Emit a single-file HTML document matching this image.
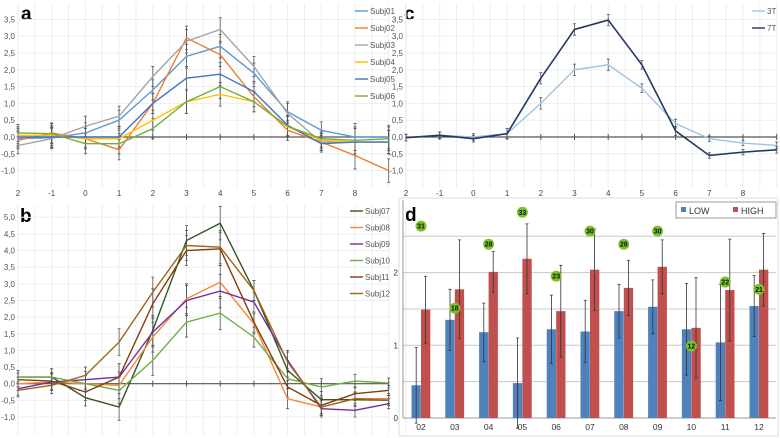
<!DOCTYPE html>
<html><head><meta charset="utf-8"><style>
html,body{margin:0;padding:0;background:#fff;}
svg{display:block;font-family:"Liberation Sans",sans-serif;}
</style></head><body>
<svg id="fig" width="780" height="438" viewBox="0 0 780 438" xmlns="http://www.w3.org/2000/svg">
<rect x="0" y="0" width="780" height="438" fill="#fff"/>
<rect x="399" y="198" width="379" height="238" fill="none" stroke="#ddd"/>
<text x="21" y="20" font-size="19" font-weight="bold">a</text>
<text x="20" y="222" font-size="19" font-weight="bold">b</text>
<text x="404" y="20" font-size="19" font-weight="bold">c</text>
<text x="405" y="221" font-size="19" font-weight="bold">d</text>
</svg>
<script>
// x categories for line panels
const xLabels = ["2","-1","0","1","2","3","4","5","6","7","8",""];
// Panel a
const aNames = ["Subj01","Subj02","Subj03","Subj04","Subj05","Subj06"];
const aS1 = [-0.05,-0.02,0.12,0.5,1.4,2.4,2.7,1.9,0.75,0.2,0.0,0.0];
const aS2 = [-0.1,0.12,-0.05,-0.38,1.0,2.95,2.45,1.2,0.2,-0.15,-0.55,-1.0];
const aS3 = [-0.25,-0.05,0.32,0.62,1.8,2.85,3.2,2.1,0.7,-0.15,-0.15,-0.15];
const aS4 = [0.05,0.05,-0.05,-0.05,0.5,1.05,1.27,1.05,0.3,-0.1,-0.15,-0.15];
const aS5 = [0.0,0.0,0.0,0.0,1.0,1.75,1.87,1.35,0.35,-0.2,-0.15,-0.15];
const aS6 = [0.12,0.1,-0.2,-0.2,0.25,1.05,1.5,1.05,0.32,-0.05,-0.1,-0.05];
const aErr = [0.25,0.3,0.3,0.3,0.3,0.35,0.35,0.3,0.3,0.25,0.4,0.35];
const aTicks = [3.5,3.0,2.5,2.0,1.5,1.0,0.5,0.0,-0.5,-1.0];
// Panel b
const bNames = ["Subj07","Subj08","Subj09","Subj10","Subj11","Subj12"];
const bS7 = [0.2,0.2,-0.42,-0.7,1.6,4.3,4.82,2.8,0.4,-0.48,-0.48,-0.5];
const bS8 = [0.0,0.05,0.0,-0.05,1.4,2.55,3.05,1.8,-0.45,-0.7,-0.45,-0.45];
const bS9 = [-0.15,0.05,0.12,0.2,1.55,2.5,2.78,2.45,0.7,-0.75,-0.8,-0.6];
const bS10 = [0.2,0.2,0.0,-0.2,0.7,1.85,2.12,1.4,0.15,-0.1,0.08,0.02];
const bS11 = [0.12,0.08,-0.25,0.2,2.4,4.0,4.05,1.85,-0.1,-0.65,-0.3,-0.2];
const bS12 = [-0.2,-0.05,0.25,1.25,2.75,4.15,4.1,2.8,0.65,-0.7,-0.45,-0.5];
const bErr = [0.2,0.25,0.25,0.4,0.45,0.45,0.5,0.3,0.3,0.25,0.2,0.15];
const bTicks = [5.0,4.5,4.0,3.5,3.0,2.5,2.0,1.5,1.0,0.5,0.0,-0.5,-1.0];
// Panel c
const cNames = ["3T","7T"];
const c3T = [-0.02,0.05,0.0,0.1,1.0,2.0,2.15,1.45,0.4,-0.05,-0.18,-0.25];
const c7T = [-0.02,0.05,-0.05,0.1,1.75,3.2,3.48,2.15,0.18,-0.55,-0.45,-0.38];
const cErr = [0.1,0.1,0.1,0.15,0.17,0.17,0.17,0.13,0.13,0.08,0.08,0.1];
// Panel d
const dCats = ["02","03","04","05","06","07","08","09","10","11","12"];
const dLow = [0.45,1.35,1.18,0.48,1.22,1.19,1.47,1.53,1.22,1.04,1.54];
const dLowErr = [0.52,0.42,0.4,0.62,0.47,0.43,0.37,0.37,0.63,0.8,0.42];
const dHigh = [1.49,1.77,2.01,2.19,1.47,2.04,1.79,2.08,1.24,1.76,2.04];
const dHighErr = [0.46,0.68,0.28,0.48,0.63,0.56,0.38,0.37,0.69,0.7,0.5];
const dBadges = [31,18,28,33,23,30,28,30,12,22,21];
const dBadgeY = [2.64,1.51,2.39,2.83,1.95,2.57,2.39,2.57,0.99,1.87,1.77];
const dTicks = [0,1,2];

const svg = document.getElementById('fig');
const NS = "http://www.w3.org/2000/svg";
function mk(tag, attrs, parent){
  const e = document.createElementNS(NS, tag);
  for (const k in attrs) e.setAttribute(k, attrs[k]);
  (parent||svg).appendChild(e);
  return e;
}

function linePanel(p){
  const xs = i => p.x0 + i*p.dx;
  const ys = v => p.y0 - v*p.k;
  const g = mk('g', {});
  
  
  for (let i=0;i<12;i++){
    for (const off of [0, p.dx/2]){
      const gl = mk('line',{x1:xs(i)+off,x2:xs(i)+off,y1:p.top,y2:p.bot,stroke:'#eeeeee','stroke-width':1},g);
      
      
    }
  }
  p.ticks.forEach(t=>{
    const gl = mk('line',{x1:p.x0,x2:xs(11),y1:ys(t),y2:ys(t),stroke:'#eeeeee'},g);
    
    
    const tx = mk('text',{x:p.lx,y:ys(t)+3,'font-size':8,fill:'#555','text-anchor':'end'},g);
    tx.textContent = t.toFixed(1).replace('.',',');
    
    
  });
  xLabels.forEach((l,i)=>{
    const tx = mk('text',{x:xs(i),y:p.xly,'font-size':8,fill:'#444','text-anchor':'middle'},g);
    tx.textContent = l;
    
    
  });
  const zl = mk('line',{x1:p.x0,x2:xs(11),y1:ys(0),y2:ys(0),stroke:'#555','stroke-width':1.2},g);
  
  
  for (let i=0;i<12;i++){
    const tk = mk('line',{x1:xs(i),x2:xs(i),y1:ys(0)-3,y2:ys(0)+3,stroke:'#555'},g);
    
    
  }
  p.series.forEach((s,si)=>{
    s.vals.forEach((v,i)=>{
      const e = p.err[i];
      const eb = mk('path',{d:`M${xs(i)} ${ys(v-e)}V${ys(v+e)}M${xs(i)-1.5} ${ys(v-e)}h3M${xs(i)-1.5} ${ys(v+e)}h3`,stroke:'#555','stroke-width':0.8,fill:'none'},g);
      
      
    });
  });
  p.series.forEach((s,si)=>{
    const d = s.vals.map((v,i)=>(i?'L':'M')+xs(i)+' '+ys(v)).join('');
    const ln = mk('path',{d:d,stroke:s.color,'stroke-width':s.w||1.4,fill:'none'},g);
    
    
    const ly = p.legY + si*p.legDy;
    const ll = mk('line',{x1:p.legX,x2:p.legX+13,y1:ly,y2:ly,stroke:s.color,'stroke-width':1.4},g);
    
    
    const lt = mk('text',{x:p.legX+15,y:ly+3,'font-size':8,fill:'#555'},g);
    lt.textContent = s.name;
    
    
  });
}

linePanel({id:'panel-a',x0:18,dx:33.7,y0:137,k:33.6,top:3,bot:188,lx:15,xly:196,ticks:aTicks,err:aErr,legX:355,legY:11,legDy:17,
  series:[{name:aNames[0],vals:aS1,color:'#5b9bd5'},{name:aNames[1],vals:aS2,color:'#ed7d31'},{name:aNames[2],vals:aS3,color:'#a5a5a5'},
          {name:aNames[3],vals:aS4,color:'#ffc000'},{name:aNames[4],vals:aS5,color:'#4472c4'},{name:aNames[5],vals:aS6,color:'#70ad47'}]});
linePanel({id:'panel-b',x0:18,dx:33.7,y0:383.7,k:33.3,top:205,bot:435,lx:15,xly:450,ticks:bTicks,err:bErr,legX:350,legY:211,legDy:16.5,
  series:[{name:bNames[0],vals:bS7,color:'#375623'},{name:bNames[1],vals:bS8,color:'#f08a3c'},{name:bNames[2],vals:bS9,color:'#7030a0'},
          {name:bNames[3],vals:bS10,color:'#70ad47'},{name:bNames[4],vals:bS11,color:'#843c0c'},{name:bNames[5],vals:bS12,color:'#99661a'}]});
linePanel({id:'panel-c',x0:406,dx:33.7,y0:137,k:33.6,top:3,bot:188,lx:403,xly:196,ticks:aTicks,err:cErr,legX:752,legY:11,legDy:17,
  series:[{name:cNames[0],vals:c3T,color:'#9dc3e6'},{name:cNames[1],vals:c7T,color:'#1f3864',w:1.6}]});

(function(){
  const x0 = 421, dx = 33.8, y0 = 418, k = 72.7, left = 403, right = 776;
  const xs = i => x0 + i*dx;
  const ys = v => y0 - v*k;
  const g = mk('g',{});
  
  
  for (let v=0.5; v<=2.5; v+=0.5){
    const gl = mk('line',{x1:left,x2:right,y1:ys(v),y2:ys(v),stroke:'#c8c8c8'},g);
    
    
  }
  const ax = mk('line',{x1:left,x2:left,y1:200,y2:y0,stroke:'#999'},g);
  
  
  const xa = mk('line',{x1:left,x2:right,y1:y0,y2:y0,stroke:'#999'},g);
  
  
  dTicks.forEach(t=>{
    const tx = mk('text',{x:398,y:ys(t)+3,'font-size':8,fill:'#333','text-anchor':'end'},g);
    tx.textContent = t;
    
    
  });
  dCats.forEach((c,i)=>{
    const cx = xs(i);
    const b1 = mk('rect',{x:cx-9.5,y:ys(dLow[i]),width:9.3,height:dLow[i]*k,fill:'#4f81bd'},g);
    
    
    const b2 = mk('rect',{x:cx,y:ys(dHigh[i]),width:9.3,height:dHigh[i]*k,fill:'#c0504d'},g);
    
    
    [[cx-4.8,dLow[i],dLowErr[i]],[cx+4.6,dHigh[i],dHighErr[i]]].forEach(([ex,v,e])=>{
      const eb = mk('path',{d:`M${ex} ${ys(v-e)}V${ys(v+e)}M${ex-1.5} ${ys(v-e)}h3M${ex-1.5} ${ys(v+e)}h3`,stroke:'#333','stroke-width':0.8,fill:'none'},g);
      
      
    });
    const tx = mk('text',{x:cx,y:430,'font-size':8.5,fill:'#333','text-anchor':'middle'},g);
    tx.textContent = c;
    
    
    const bc = mk('circle',{cx:cx,cy:ys(dBadgeY[i]),r:5.5,fill:'#7cc22a'},g);
    
    
    const bt = mk('text',{x:cx,y:ys(dBadgeY[i])+2.5,'font-size':7,'font-weight':'bold',fill:'#111','text-anchor':'middle'},g);
    bt.textContent = dBadges[i];
    
    
  });
  const lg = mk('rect',{x:676,y:202,width:100,height:16,fill:'#fff',stroke:'#999'},g);
  
  
  [['LOW','#4f81bd',681],['HIGH','#c0504d',733]].forEach(([n,c,x])=>{
    const r = mk('rect',{x:x,y:207,width:5,height:5,fill:c},g);
    
    
    const t = mk('text',{x:x+8,y:214,'font-size':9,fill:'#333'},g);
    t.textContent = n;
    
    
  });
})();
</script>
</body></html>
